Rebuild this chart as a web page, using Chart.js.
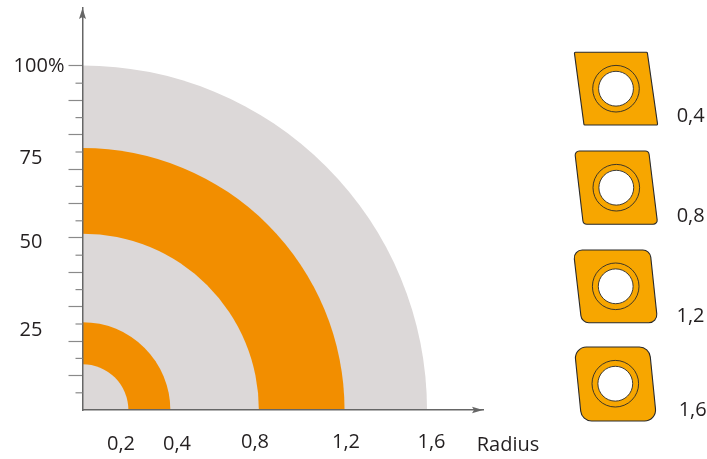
<!DOCTYPE html>
<html>
<head>
<meta charset="utf-8">
<style>html,body{margin:0;padding:0;background:#fff}#w{position:relative;width:707px;height:459px}</style>
<script src="https://cdn.jsdelivr.net/npm/chart.js@4"></script>
</head>
<body>
<div id="w"><canvas id="c" width="707" height="459"></canvas></div>
<script>
// Ring radii, innermost first (radius-axis units)
const ringRadii = [0.213, 0.408, 0.819, 1.217, 1.6];
const ringColors = ['#dcd8d8', '#f28e00', '#dcd8d8', '#f28e00', '#dcd8d8'];
const yLongTicks = [10, 20, 30, 40, 50, 60, 70, 80, 90, 100];
const yShortTicks = [5, 15, 25, 35, 45, 55, 65, 75, 85, 95];
const yLabels = ['100%', '75', '50', '25'];
const yLabelValues = [100, 75, 50, 25];
const xLabels = ['0,2', '0,4', '0,8', '1,2', '1,6'];
const xLabelValues = [0.2, 0.4, 0.8, 1.2, 1.6];
const insertLabels = ['0,4', '0,8', '1,2', '1,6'];
const axisTitle = 'Radius';

// Hand placement of the reference's labels (style only, not data)
const yLabelPlace = [[39, 0], [31, 6], [31, 4], [31, 6]];
const xLabelPlace = [[121, 444.5], [177, 444.5], [255, 442.5], [346, 442], [431.5, 442]];
const insertShapes = [
  {q:[[574.3,52.3],[647.3,52.3],[657.7,125],[584,125]], c:[616,88.7], corner:1, lx:690.7, ly:116},
  {q:[[574.7,151],[648.7,151],[657.7,224.3],[583.3,224.3]], c:[616.3,187.7], corner:4, lx:690.7, ly:216.7},
  {q:[[573.3,250],[650,250],[657.7,322.7],[581.7,322.7]], c:[615.7,286.3], corner:8, lx:690.5, ly:316},
  {q:[[574.3,347],[649.3,347],[656.7,421],[581.7,421]], c:[615.3,383.7], corner:11, lx:692.7, ly:410.7}
];
const FONT = '20px "Open Sans"';
const INK = '#231f20';

const decor = {
  id: 'decor',
  afterDraw(chart) {
    const ctx = chart.ctx, xs = chart.scales.x, ys = chart.scales.y, a = chart.chartArea;
    ctx.save();
    // short y ticks
    ctx.strokeStyle = '#8a8a8a'; ctx.lineWidth = 1.2;
    yShortTicks.forEach(v => {
      const y = ys.getPixelForValue(v);
      ctx.beginPath(); ctx.moveTo(a.left - 7, y); ctx.lineTo(a.left, y); ctx.stroke();
    });
    // arrow heads
    ctx.fillStyle = '#666';
    ctx.beginPath(); ctx.moveTo(a.left, a.top); ctx.lineTo(a.left + 3.5, a.top + 11); ctx.lineTo(a.left, a.top + 9); ctx.lineTo(a.left - 3.5, a.top + 11); ctx.closePath(); ctx.fill();
    ctx.beginPath(); ctx.moveTo(a.right, a.bottom); ctx.lineTo(a.right - 11, a.bottom + 3.2); ctx.lineTo(a.right - 9, a.bottom); ctx.lineTo(a.right - 11, a.bottom - 3.2); ctx.closePath(); ctx.fill();
    // axis labels
    ctx.fillStyle = INK; ctx.font = FONT; ctx.textAlign = 'center'; ctx.textBaseline = 'middle';
    yLabels.forEach((t, i) => ctx.fillText(t, yLabelPlace[i][0], ys.getPixelForValue(yLabelValues[i]) + yLabelPlace[i][1]));
    xLabels.forEach((t, i) => ctx.fillText(t, xLabelPlace[i][0], xLabelPlace[i][1]));
    ctx.fillText(axisTitle, 508, 445);
    // inserts
    insertShapes.forEach((s, i) => {
      const q = s.q, n = q.length;
      ctx.beginPath();
      const m = [(q[3][0] + q[0][0]) / 2, (q[3][1] + q[0][1]) / 2];
      ctx.moveTo(m[0], m[1]);
      for (let k = 0; k < n; k++) {
        const p = q[k], r = q[(k + 1) % n];
        ctx.arcTo(p[0], p[1], r[0], r[1], s.corner);
      }
      ctx.closePath();
      ctx.fillStyle = '#f7a600'; ctx.fill();
      ctx.strokeStyle = '#2a2a2a'; ctx.lineWidth = 1.1; ctx.stroke();
      ctx.beginPath(); ctx.arc(s.c[0], s.c[1], 23.3, 0, Math.PI * 2); ctx.lineWidth = 0.9; ctx.stroke();
      ctx.beginPath(); ctx.arc(s.c[0], s.c[1], 17.4, 0, Math.PI * 2); ctx.fillStyle = '#fff'; ctx.fill(); ctx.stroke();
      ctx.fillStyle = INK;
      ctx.fillText(insertLabels[i], s.lx, s.ly);
    });
    ctx.restore();
  }
};

new Chart(document.getElementById('c'), {
  type: 'scatter',
  data: {
    datasets: ringRadii.map((r, i) => ({
      label: 'r' + r,
      data: [{x: 0, y: 0}],
      backgroundColor: ringColors[i],
      borderWidth: 0,
      pointBorderWidth: 0,
      pointRadius: ctx => {
        const s = ctx.chart.scales.x;
        return s.getPixelForValue(r) - s.getPixelForValue(0);
      },
      pointHoverRadius: ctx => {
        const s = ctx.chart.scales.x;
        return s.getPixelForValue(r) - s.getPixelForValue(0);
      }
    }))
  },
  plugins: [decor],
  options: {
    responsive: false,
    animation: false,
    events: [],
    layout: {padding: {top: 8, right: 224, left: 0, bottom: 0}},
    plugins: {legend: {display: false}, tooltip: {enabled: false}, title: {display: false}},
    scales: {
      x: {
        type: 'linear', min: 0, max: 1.86,
        afterFit: s => { s.height = 49; },
        grid: {display: true, drawOnChartArea: false, drawTicks: false},
        border: {display: true, color: '#666', width: 1.5, z: 2},
        ticks: {display: false}
      },
      y: {
        type: 'linear', min: 0, max: 116.86,
        afterFit: s => { s.width = 82.5; },
        afterBuildTicks: s => { s.ticks = yLongTicks.map(v => ({value: v})); },
        grid: {display: true, drawOnChartArea: false, drawTicks: true, tickLength: 14, tickColor: '#8a8a8a', tickWidth: 1.2},
        border: {display: true, color: '#666', width: 1.5, z: 2},
        ticks: {display: false}
      }
    }
  }
});
</script>
</body>
</html>
